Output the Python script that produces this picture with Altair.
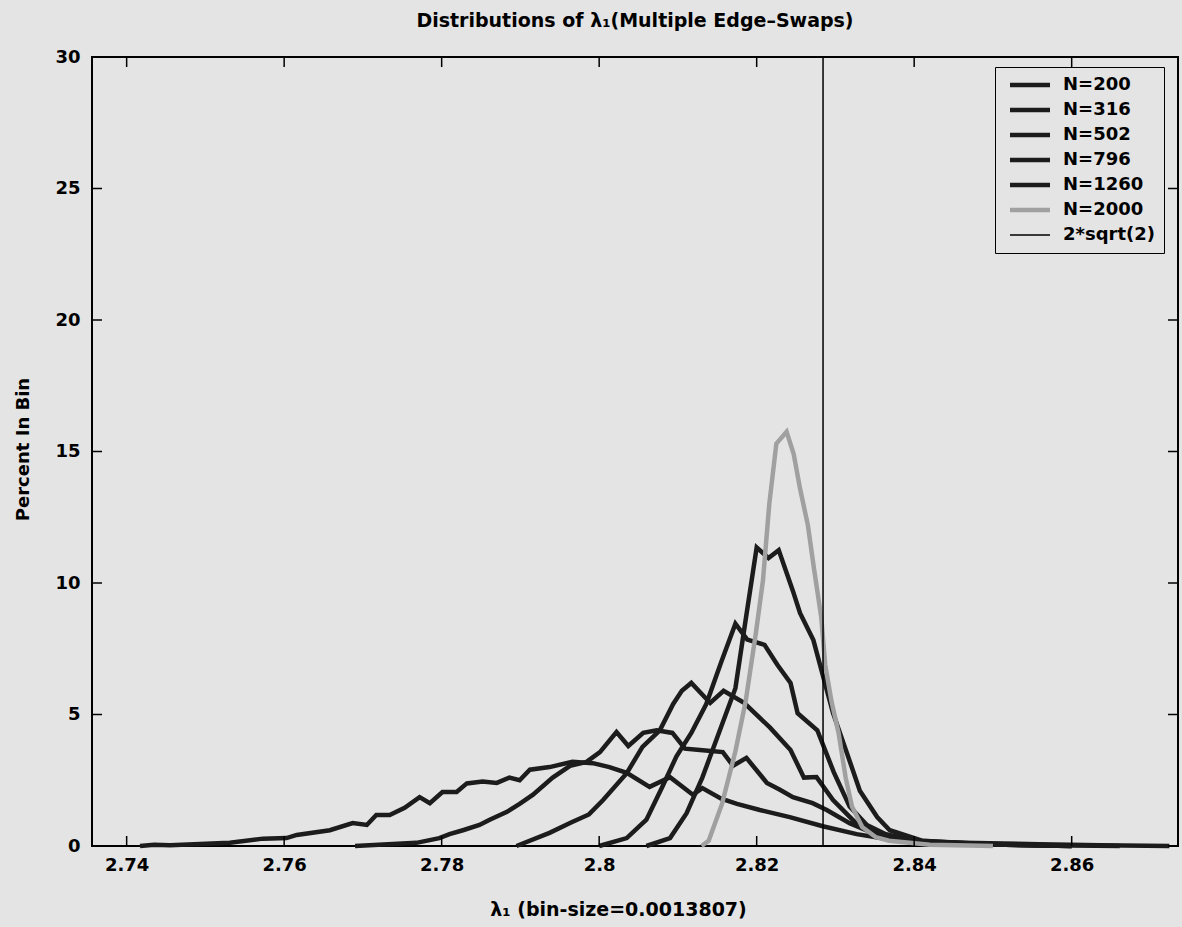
import altair as alt
import numpy as np
import pandas as pd

# ---------------- data ----------------
series_names = ["N=200", "N=316", "N=502", "N=796", "N=1260", "N=2000"]

x_n200 = [2.7417, 2.7435, 2.7455, 2.7493, 2.7531, 2.7573, 2.7603, 2.7616, 2.7658, 2.7687,
          2.7705, 2.7717, 2.7734, 2.7753, 2.7772, 2.7785, 2.7801, 2.7819, 2.7832, 2.7852,
          2.7870, 2.7886, 2.7899, 2.7912, 2.7937, 2.7966, 2.7992, 2.8013, 2.8035, 2.8064,
          2.8090, 2.8119, 2.8131, 2.8155, 2.8175, 2.8204, 2.8242, 2.8284, 2.8327, 2.8369,
          2.8411, 2.8496, 2.8559, 2.8636, 2.8724]
y_n200 = [0.0, 0.05, 0.03, 0.08, 0.12, 0.28, 0.3, 0.42, 0.6, 0.87,
          0.8, 1.18, 1.18, 1.45, 1.86, 1.63, 2.05, 2.05, 2.38, 2.45,
          2.4, 2.6, 2.5, 2.9, 3.0, 3.2, 3.15, 3.0, 2.78, 2.25,
          2.62, 1.95, 2.2, 1.8, 1.6, 1.37, 1.1, 0.75, 0.45, 0.25,
          0.15, 0.1, 0.07, 0.03, 0.0]

x_n316 = [2.7690, 2.7768, 2.7797, 2.7810, 2.7827, 2.7848, 2.7861, 2.7883, 2.7899, 2.7916,
          2.7941, 2.7963, 2.7984, 2.8001, 2.8022, 2.8037, 2.8056, 2.8073, 2.8093, 2.8109,
          2.8128, 2.8157, 2.8170, 2.8187, 2.8213, 2.8229, 2.8246, 2.8271, 2.8289, 2.8318,
          2.8347, 2.8369, 2.8407, 2.8483, 2.8572, 2.8661]
y_n316 = [0.0, 0.12, 0.3, 0.45, 0.6, 0.8, 1.0, 1.3, 1.6, 1.95,
          2.6, 3.05, 3.2, 3.57, 4.33, 3.8, 4.3, 4.4, 4.3, 3.7,
          3.65, 3.57, 3.05, 3.35, 2.4, 2.15, 1.86, 1.63, 1.37, 0.87,
          0.5, 0.34, 0.2, 0.08, 0.03, 0.0]

x_n502 = [2.7895, 2.7937, 2.7965, 2.7987, 2.8005, 2.8035, 2.8055, 2.8077, 2.8094, 2.8105,
          2.8117, 2.8141, 2.8158, 2.8184, 2.8217, 2.8243, 2.8260, 2.8276, 2.8297, 2.8326,
          2.8364, 2.8410, 2.8500, 2.8600]
y_n502 = [0.0, 0.5, 0.9, 1.2, 1.75, 2.77, 3.77, 4.4, 5.4, 5.9,
          6.2, 5.44, 5.9, 5.44, 4.5, 3.65, 2.6, 2.62, 1.75, 0.87,
          0.34, 0.15, 0.06, 0.0]

x_n796 = [2.8000, 2.8035, 2.8060, 2.8081, 2.8098, 2.8117, 2.8136, 2.8155, 2.8173, 2.8188,
          2.8210, 2.8226, 2.8243, 2.8252, 2.8277, 2.8298, 2.8318, 2.8340, 2.8364, 2.8410,
          2.8500, 2.8600]
y_n796 = [0.0, 0.3, 1.0, 2.3, 3.4, 4.3, 5.4, 7.0, 8.45, 7.85,
          7.65, 6.9, 6.2, 5.05, 4.4, 2.8, 1.5, 0.8, 0.45, 0.15,
          0.06, 0.0]

x_n1260 = [2.8060, 2.8090, 2.8111, 2.8131, 2.8152, 2.8173, 2.8186, 2.8200, 2.8215, 2.8228,
           2.8246, 2.8255, 2.8272, 2.8289, 2.8297, 2.8315, 2.8331, 2.8353, 2.8369, 2.8410,
           2.8500, 2.8600]
y_n1260 = [0.0, 0.3, 1.25, 2.6, 4.3, 6.0, 8.6, 11.35, 10.95, 11.25,
           9.7, 8.86, 7.83, 5.93, 5.05, 3.5, 2.1, 1.1, 0.6, 0.2,
           0.06, 0.0]

x_n2000 = [2.8130, 2.8139, 2.8156, 2.8173, 2.8186, 2.8199, 2.8208, 2.8216, 2.8225, 2.8238,
           2.8247, 2.8255, 2.8265, 2.8273, 2.8282, 2.8287, 2.8295, 2.8304, 2.8313, 2.8321,
           2.8334, 2.8351, 2.8368, 2.8420, 2.8500]
y_n2000 = [0.0, 0.2, 1.6, 3.6, 5.5, 8.1, 10.1, 13.0, 15.3, 15.75,
           14.9, 13.6, 12.2, 10.5, 8.7, 6.9, 5.5, 4.3, 2.6, 1.5,
           0.72, 0.34, 0.2, 0.05, 0.0]

ref_label = "2*sqrt(2)"
ref_x = [2 * np.sqrt(2)]

x_ticks = [2.74, 2.76, 2.78, 2.80, 2.82, 2.84, 2.86]
y_ticks = [0, 5, 10, 15, 20, 25, 30]
x_domain = [2.7356, 2.8735]
y_domain = [0, 30]

# ---------------- tables ----------------
xs_all = [x_n200, x_n316, x_n502, x_n796, x_n1260, x_n2000]
ys_all = [y_n200, y_n316, y_n502, y_n796, y_n1260, y_n2000]
rows = []
for name, xs, ys in zip(series_names, xs_all, ys_all):
    for i, (a, b) in enumerate(zip(xs, ys)):
        rows.append({"series": name, "lam": a, "pct": b, "idx": i})
df = pd.DataFrame(rows)
df_ref = pd.DataFrame({"lam": ref_x, "series": [ref_label]})
df_xt = pd.DataFrame({"t": x_ticks})
df_yt = pd.DataFrame({"t": y_ticks})

W, H = 1086, 789
BG = "#e4e4e4"
FONT = "DejaVu Sans"

legend_domain = series_names + [ref_label]
legend_colors = ["#1c1c1c", "#1c1c1c", "#1c1c1c", "#1c1c1c", "#1c1c1c", "#a0a0a0", "#000000"]

xscale = alt.Scale(domain=x_domain, nice=False, zero=False)
yscale = alt.Scale(domain=y_domain, nice=False, zero=False)

leg = alt.Legend(
    title=None, orient="none", legendX=903, legendY=10,
    strokeColor="black", fillColor=BG, padding=9,
    symbolType="M-2,0H2", symbolSize=400, symbolOffset=17,
    symbolStrokeWidth=alt.ExprRef("datum.value === '2*sqrt(2)' ? 1.5 : 4.5"),
    labelFont=FONT, labelFontSize=18, labelFontWeight="bold", labelColor="black",
    labelOffset=24, rowPadding=7, cornerRadius=0,
)
color_enc = alt.Color("series:N", scale=alt.Scale(domain=legend_domain, range=legend_colors), legend=leg)

x_axis = alt.Axis(values=x_ticks, format="~g", ticks=False, domain=False, grid=False,
                  labelPadding=10, title="λ₁ (bin-size=0.0013807)", titleFontSize=19,
                  titleX=526, titleY=69, titleBaseline="alphabetic", titleAlign="center")
y_axis = alt.Axis(values=y_ticks, format="d", ticks=False, domain=False, grid=False,
                  labelPadding=12, title="Percent In Bin",
                  titleX=-64, titleY=392, titleAngle=-90, titleBaseline="alphabetic", titleAlign="center")

lines = alt.Chart(df).mark_line(strokeJoin="miter", strokeWidth=4.5).encode(
    x=alt.X("lam:Q", scale=xscale, axis=x_axis),
    y=alt.Y("pct:Q", scale=yscale, axis=y_axis),
    color=color_enc,
    order="idx:Q",
)

ref_rule = alt.Chart(df_ref).mark_rule(strokeWidth=1.5).encode(
    x=alt.X("lam:Q", scale=xscale),
    color=color_enc,
)

TL = 10
tick_bottom = alt.Chart(df_xt).mark_rule(color="black", strokeWidth=1.5).encode(
    x=alt.X("t:Q", scale=xscale), y=alt.value(H), y2=alt.value(H - TL))
tick_top = alt.Chart(df_xt).mark_rule(color="black", strokeWidth=1.5).encode(
    x=alt.X("t:Q", scale=xscale), y=alt.value(0), y2=alt.value(TL))
tick_left = alt.Chart(df_yt).mark_rule(color="black", strokeWidth=1.5).encode(
    y=alt.Y("t:Q", scale=yscale), x=alt.value(0), x2=alt.value(TL))
tick_right = alt.Chart(df_yt).mark_rule(color="black", strokeWidth=1.5).encode(
    y=alt.Y("t:Q", scale=yscale), x=alt.value(W - TL), x2=alt.value(W))

chart = alt.layer(lines, ref_rule, tick_bottom, tick_top, tick_left, tick_right).properties(
    width=W, height=H,
    title=alt.Title("Distributions of λ₁(Multiple Edge–Swaps)", font=FONT, fontSize=19,
                    fontWeight="bold", color="black", anchor="middle", offset=2,
                    baseline="alphabetic"),
    autosize=alt.AutoSizeParams(type="none"),
    padding={"left": 92, "top": 57, "right": 4, "bottom": 81},
).configure(background=BG).configure_view(
    stroke="black", strokeWidth=2, fill=BG
).configure_axis(
    labelFont=FONT, labelFontSize=18, labelFontWeight="bold", labelColor="black",
    titleFont=FONT, titleFontSize=18, titleFontWeight="bold", titleColor="black",
)

chart.save("out.html", embed_options={"renderer": "svg", "actions": False})
